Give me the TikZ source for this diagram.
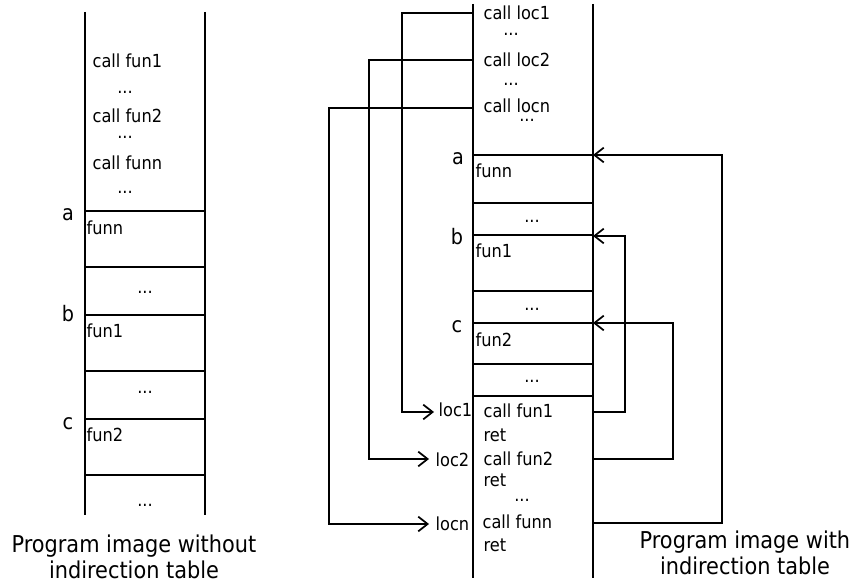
\documentclass[tikz,border=0pt]{standalone}
\usepackage{fontspec}
\setmainfont{DejaVu Sans Condensed}
\usetikzlibrary{arrows.meta}
\begin{document}
\begin{tikzpicture}[x=0.75pt,y=-0.75pt,line width=0.9pt,
  lbl/.style={inner sep=0pt,anchor=base west,font=\fontsize{13.5}{16}\selectfont},
  mid/.style={inner sep=0pt,anchor=base,font=\fontsize{13.5}{16}\selectfont},
  tag/.style={inner sep=0pt,anchor=base,font=\fontsize{16}{19}\selectfont},
  captxt/.style={inner sep=0pt,align=center,anchor=base,font=\fontsize{17.4}{19.5}\selectfont},
  link/.style={-{Straight Barb[length=7pt,width=11pt,line width=1.3pt]},line width=0.9pt}]
\useasboundingbox (0,0) rectangle (857,584);

% ---- left column: program image without indirection table
\draw (85,12) -- (85,515);
\draw (205,12) -- (205,515);
\foreach \y in {211,267,315,371,419,475} \draw (85,\y) -- (205,\y);

\node[lbl] (lcf1) at (92,68) {call fun1};
\node[mid] (ld1) at (125,94) {...};
\node[lbl] (lcf2) at (92,123) {call fun2};
\node[mid] (ld2) at (125,139) {...};
\node[lbl] (lcfn) at (92,170) {call funn};
\node[mid] (ld3) at (125,194) {...};
\node[tag] (la) at (68,221) {a};
\node[lbl] (lfunn) at (86,235) {funn};
\node[mid] (ld4) at (145,294) {...};
\node[tag] (lb) at (68,322) {b};
\node[lbl] (lfun1) at (86,338) {fun1};
\node[mid] (ld5) at (145,394) {...};
\node[tag] (lc) at (68,430) {c};
\node[lbl] (lfun2) at (86,442) {fun2};
\node[mid] (ld6) at (145,506) {...};

% base anchor of a two-line node sits on its last line
\node[captxt] (lcap) at (134,578) {Program image without\\indirection table};

% ---- right column: program image with indirection table
\draw (473,4) -- (473,578);
\draw (593,4) -- (593,578);
\foreach \y in {155,203,235,291,323,364,396} \draw (473,\y) -- (593,\y);

\node[lbl] (cl1) at (483,20) {call loc1};
\node[mid] (rd1) at (511,36) {...};
\node[lbl] (cl2) at (483,67) {call loc2};
\node[mid] (rd2) at (511,86) {...};
\node[lbl] (cln) at (483,113) {call locn};
\node[mid] (rd3) at (527,122) {...};
\node[tag] (ra) at (458,165) {a};
\node[lbl] (rfunn) at (475,178) {funn};
\node[mid] (rd4) at (532,223) {...};
\node[tag] (rb) at (457,245) {b};
\node[lbl] (rfun1) at (475,258) {fun1};
\node[mid] (rd5) at (532,311) {...};
\node[tag] (rc) at (457,333) {c};
\node[lbl] (rfun2) at (475,347) {fun2};
\node[mid] (rd6) at (532,383) {...};

\node[lbl] (loc1) at (438,417) {loc1};
\node[lbl] (loc2) at (435,466) {loc2};
\node[lbl] (locn) at (435,530) {locn};

\node[lbl] (cf1) at (483,418) {call fun1};
\node[lbl] (ret1) at (483,442) {ret};
\node[lbl] (cf2) at (483,465) {call fun2};
\node[lbl] (ret2) at (483,486) {ret};
\node[mid] (rd7) at (522,502) {...};
\node[lbl] (cfn) at (482,528) {call funn};
\node[lbl] (retn) at (483,551) {ret};

\node[captxt] (rcap) at (745,574) {Program image with\\indirection table};

% ---- connector end points on the column edges
\coordinate (s1) at (473,13);
\coordinate (s2) at (473,60);
\coordinate (sn) at (473,108);
\coordinate (e1) at (593,412);
\coordinate (e2) at (593,459);
\coordinate (en) at (593,523);
\coordinate (ta) at (593,155);
\coordinate (tb) at (593,236);
\coordinate (tc) at (593,323);
\coordinate (t1) at (434,412);
\coordinate (t2) at (429,459);
\coordinate (tn) at (429,524);

% calls into the indirection table
\draw[link] (s1) -| (402,412) -- (t1);
\draw[link] (s2) -| (369,459) -- (t2);
\draw[link] (sn) -| (329,524) -- (tn);

% table entries jumping to the functions
\draw[link] (e1) -| (625,236) -- (tb);
\draw[link] (e2) -| (673,323) -- (tc);
\draw[link] (en) -| (722,155) -- (ta);
\end{tikzpicture}
\end{document}
